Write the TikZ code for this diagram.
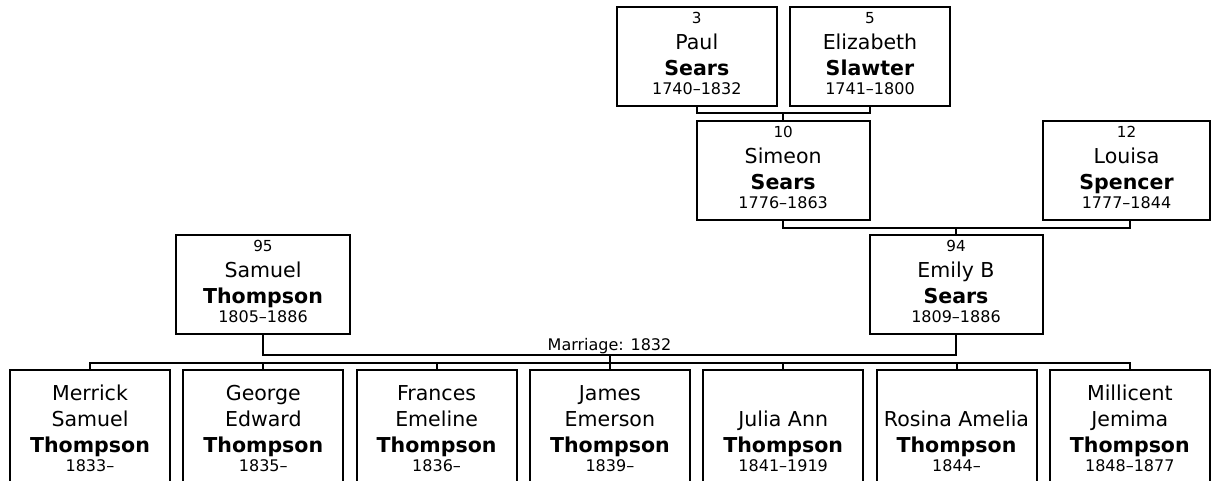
\documentclass[tikz,border=0pt]{standalone}
\usepackage{fontspec}
\setmainfont{DejaVu Sans}
\usepackage{tikz}
\usetikzlibrary{positioning, calc}

% one screen pixel
\newdimen\pxu \pxu=0.75pt
\newcommand\namesz{\fontsize{15.4pt}{18pt}\selectfont}
\newcommand\idsz{\fontsize{11.4pt}{13pt}\selectfont}
\newcommand\datesz{\fontsize{12pt}{14pt}\selectfont}
\newcommand\marrsz{\fontsize{12pt}{14pt}\selectfont}
% four centred lines, fixed baselines
\newcommand\cardline[1]{\hbox to 0pt{\hss\smash{#1}\hss}}
\newcommand\cardtext[4]{\vbox{\offinterlineskip\kern5\pxu
  \cardline{#1}\kern26\pxu
  \cardline{\namesz #2}\kern26\pxu
  \cardline{\namesz\bfseries #3}\kern19\pxu
  \cardline{\datesz #4}}}

\begin{document}
\begin{tikzpicture}[
    x=0.75pt, y=-0.75pt,
    % --- STYLES ---
    person/.style={rectangle, draw, line width=1.5pt, inner sep=0pt, minimum height=99.3*\pxu},
    child/.style={person, minimum width=160*\pxu, minimum height=126*\pxu},
    link/.style={line width=1.5pt}
]
\useasboundingbox (0,0) rectangle (1211,481);
\fill[white] (0,0) rectangle (1211,481);
\clip (0,0) rectangle (1211,481);

% --- 1. GRANDPARENTS ---
\node[person, minimum width=160.5*\pxu] (paul) at (696.8,56.3) {\cardtext{\idsz 3}{Paul}{Sears}{1740–1832}};
\node[person, minimum width=160*\pxu] (elizabeth) at (870,56.3) {\cardtext{\idsz 5}{Elizabeth}{Slawter}{1741–1800}};

% --- 2. PARENTS OF EMILY ---
\node[person, minimum width=173*\pxu] (simeon) at (783.2,170.4) {\cardtext{\idsz 10}{Simeon}{Sears}{1776–1863}};
\node[person, minimum width=167*\pxu] (louisa) at (1126.5,170.4) {\cardtext{\idsz 12}{Louisa}{Spencer}{1777–1844}};

% --- 3. COUPLE ---
\node[person, minimum width=174*\pxu] (samuel) at (263,284.6) {\cardtext{\idsz 95}{Samuel}{Thompson}{1805–1886}};
\node[person, minimum width=173*\pxu] (emily) at (956,284.6) {\cardtext{\idsz 94}{Emily B}{Sears}{1809–1886}};

% --- 4. CHILDREN ---
\foreach \i/\first/\second/\dates [count=\k from 0] in {
    c1/Merrick/Samuel/1833–, c2/George/Edward/1835–, c3/Frances/Emeline/1836–,
    c4/James/Emerson/1839–, c5//Julia Ann/1841–1919, c6//Rosina Amelia/1844–,
    c7/Millicent/Jemima/1848–1877} {
    \node[child] (\i) at ({90+173.3*\k},433) {\cardtext{\namesz \first}{\second}{Thompson}{\dates}};
}

% --- 5. LINKS ---
\coordinate (u1) at (783.2,112.7);
\draw[link] (paul.south) |- (u1) -| (elizabeth.south);
\draw[link] (u1) -- (simeon.north);

\coordinate (u2) at (956,227.7);
\draw[link] (simeon.south) |- (u2) -| (louisa.south -| c7.north);
\draw[link] (u2) -- (emily.north);

\coordinate (u3) at (609.5,355);
\draw[link] (samuel.south) |- (u3) -| (emily.south);
\node[font=\marrsz, anchor=base, inner sep=0pt] (marriage) at (609.5,350.5) {Marriage: 1832};

\coordinate (kids) at (609.5,362.7);
\draw[link] (u3) -- (kids);
\draw[link] (c1.north) |- (kids) -| (c7.north);
\foreach \i in {c2,c3,c4,c5,c6}
    \draw[link] (\i.north) -- (\i.north |- kids);

\end{tikzpicture}
\end{document}
